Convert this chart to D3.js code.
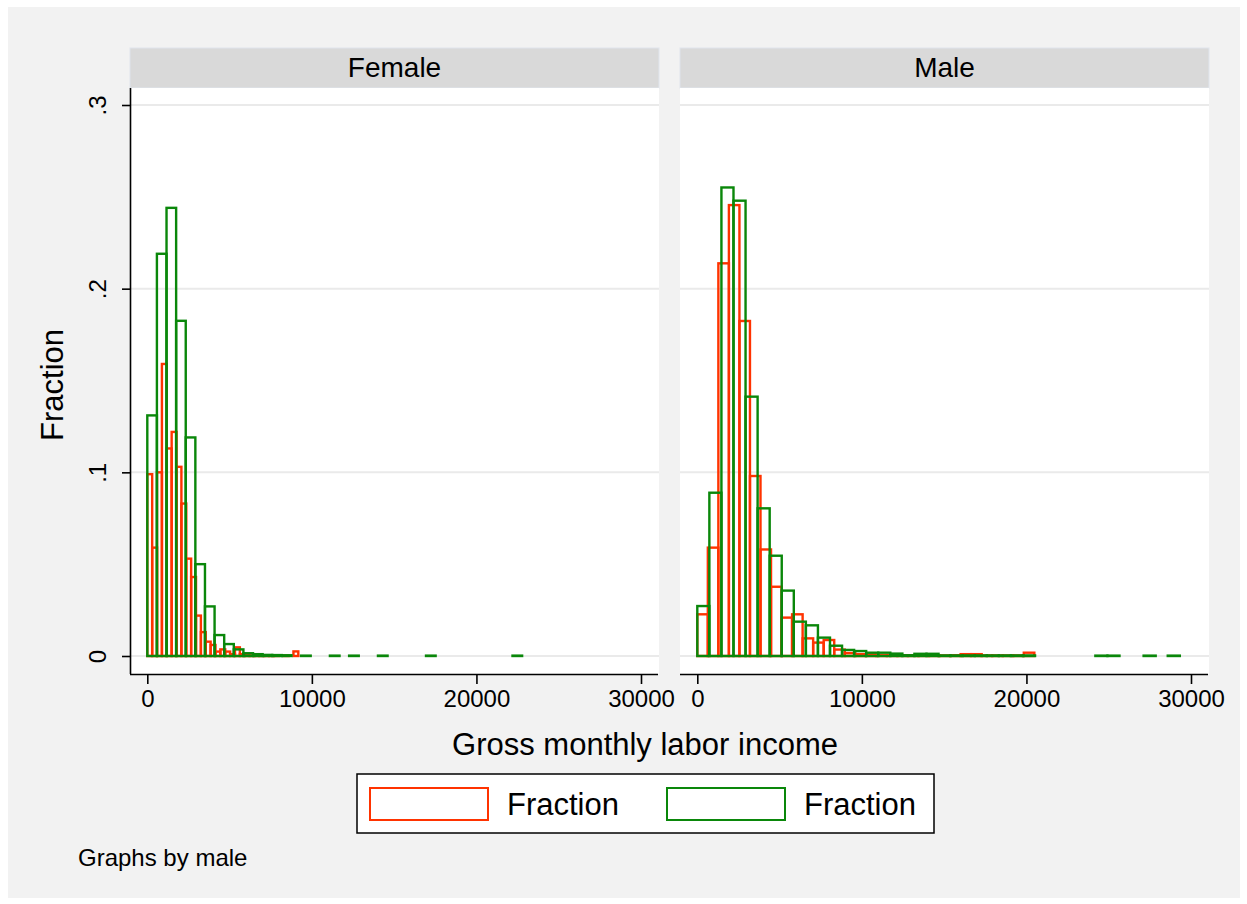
<!DOCTYPE html>
<html>
<head>
<meta charset="utf-8">
<script src="https://cdn.jsdelivr.net/npm/d3@7"></script>
<style>
  html, body { margin: 0; padding: 0; background: #ffffff; }
  svg { display: block; }
  text { font-family: "Liberation Sans", Arial, Helvetica, sans-serif; fill: #000; }
</style>
</head>
<body>
<svg id="chart" width="1247" height="904"></svg>
<script>
// ---------------- DATA ----------------
const panels = ["Female", "Male"];
const xTicks = [0, 10000, 20000, 30000];
const xTickLabels = ["0", "10000", "20000", "30000"];
const yTicks = [0, 0.1, 0.2, 0.3];
const yTickLabels = ["0", ".1", ".2", ".3"];
const legendLabels = ["Fraction", "Fraction"];
const xTitle = "Gross monthly labor income";
const yTitle = "Fraction";
const note = "Graphs by male";

// bin widths (income units), bins start at 0
const femaleRedWidth = 296;
const femaleGreenWidth = 584;
const maleRedWidth = 640;
const maleGreenWidth = 733;

// fractions per bin (null = empty bin)
const femaleRed = [0.099, 0.059, 0.100, 0.159, 0.113, 0.122, 0.103, 0.083, 0.053, 0.043,
  0.022, 0.013, 0.0078, 0.006, 0.0024, 0.0036, 0.0024, 0.001, 0.0047, 0.001,
  0.0004, 0.0003, 0.0003, 0.0003, 0.0002, 0.0002, 0.0002, null, 0.0002, null, 0.0025];
const femaleGreen = [0.131, 0.219, 0.244, 0.1825, 0.119, 0.050, 0.027, 0.0114, 0.0065, 0.0036,
  0.0015, 0.001, 0.0006, 0.0005, 0.0004, null, 0.0002, null, null, 0.0002,
  null, 0.0002, null, null, 0.0002, null, null, null, null, 0.0002,
  null, null, null, null, null, null, null, null, 0.0002];
const maleRed = [0.0227, 0.059, 0.2138, 0.2455, 0.1824, 0.098, 0.058, 0.0377, 0.0209, 0.0227,
  0.0096, 0.0073, 0.0087, 0.0035, 0.0016, 0.001, 0.0008, 0.0004, 0.0004, 0.0004,
  0.0004, 0.0003, 0.0003, 0.0003, 0.0004, 0.001, 0.001, 0.0003, 0.0003, 0.0003,
  0.0003, 0.0018];
const maleGreen = [0.0272, 0.0889, 0.2551, 0.2479, 0.1412, 0.0804, 0.0546, 0.0356, 0.0187, 0.0167,
  0.010, 0.0056, 0.0033, 0.0027, 0.0018, 0.0018, 0.0013, 0.0004, 0.0012, 0.0012,
  0.0003, 0.0003, 0.0003, 0.0003, 0.0003, 0.0003, 0.0003, 0.0003, null, null,
  null, null, null, 0.0002, 0.0002, null, null, 0.0002, null, 0.0002];

const series = {
  Female: [{values: femaleRed, width: femaleRedWidth, color: "#ff3300"},
           {values: femaleGreen, width: femaleGreenWidth, color: "#0a870a"}],
  Male:   [{values: maleRed, width: maleRedWidth, color: "#ff3300"},
           {values: maleGreen, width: maleGreenWidth, color: "#0a870a"}]
};
const legendColors = ["#ff3300", "#0a870a"];

// ---------------- LAYOUT ----------------
const svg = d3.select("#chart");

// outer grey graph region
svg.append("rect").attr("x", 8).attr("y", 7).attr("width", 1232).attr("height", 891).attr("fill", "#f2f2f2");

const plotTop = 88, plotBottom = 674, headerTop = 48;
const panelLefts = [130, 680];
const panelWidth = 529;

const y = d3.scaleLinear().domain([0, 0.3]).range([656, 105]);

panels.forEach((p, pi) => {
  const pl = panelLefts[pi];
  const x = d3.scaleLinear().domain([0, 30000]).range([pl + 17.3, pl + 511]);
  const g = svg.append("g");

  // header strip
  g.append("rect").attr("x", pl).attr("y", headerTop).attr("width", panelWidth).attr("height", plotTop - headerTop)
    .attr("fill", "#d9d9d9").attr("stroke", "#dfe4ec").attr("stroke-width", 1);
  g.append("text").attr("x", pl + panelWidth / 2).attr("y", 77).attr("text-anchor", "middle")
    .attr("font-size", 28).text(p);

  // plot region
  g.append("rect").attr("x", pl).attr("y", plotTop).attr("width", panelWidth).attr("height", plotBottom - plotTop)
    .attr("fill", "#ffffff");

  // gridlines
  g.selectAll("line.grid").data(yTicks).enter().append("line")
    .attr("x1", pl).attr("x2", pl + panelWidth)
    .attr("y1", d => y(d)).attr("y2", d => y(d))
    .attr("stroke", "#eaeaea").attr("stroke-width", 2);

  // histograms
  series[p].forEach(s => {
    const bins = s.values.map((v, i) => ({v, x0: i * s.width, x1: (i + 1) * s.width})).filter(d => d.v !== null);
    g.selectAll(null).data(bins).enter().append("rect")
      .attr("x", d => x(d.x0))
      .attr("width", d => x(d.x1) - x(d.x0))
      .attr("y", d => y(d.v))
      .attr("height", d => y(0) - y(d.v))
      .attr("fill", "none")
      .attr("stroke", s.color)
      .attr("stroke-width", 2.4);
  });

  // x axis
  const xAxis = d3.axisBottom(x).tickValues(xTicks).tickFormat((d, i) => xTickLabels[i]).tickSize(10).tickSizeOuter(0).tickPadding(6);
  const xa = g.append("g").attr("transform", `translate(0,${plotBottom})`).call(xAxis);
  xa.select(".domain").attr("d", `M${pl},0.5H${pl + panelWidth - 1}`).attr("stroke", "#000").attr("stroke-width", 1.6);
  xa.selectAll(".tick line").attr("stroke", "#000").attr("stroke-width", 1.6);
  xa.selectAll(".tick text").attr("font-size", 24).attr("font-family", "Liberation Sans, Arial, sans-serif").attr("fill", "#000");
});

// y axis (left panel only)
const yAxis = d3.axisLeft(y).tickValues(yTicks).tickFormat((d, i) => yTickLabels[i]).tickSize(8).tickSizeOuter(0).tickPadding(6);
const ya = svg.append("g").attr("transform", `translate(${panelLefts[0]},0)`).call(yAxis);
ya.select(".domain").attr("d", `M0.5,${plotTop}V${plotBottom}`).attr("stroke", "#000").attr("stroke-width", 1.6);
ya.selectAll(".tick line").attr("stroke", "#000").attr("stroke-width", 1.6);
ya.selectAll(".tick text").remove();
ya.selectAll(".tick").append("text")
  .attr("transform", "translate(-24,0) rotate(-90)")
  .attr("text-anchor", "middle")
  .attr("font-size", 24)
  .attr("font-family", "Liberation Sans, Arial, sans-serif")
  .attr("fill", "#000")
  .text((d, i) => yTickLabels[i]);

// axis titles
svg.append("text").attr("transform", "translate(63,385) rotate(-90)").attr("text-anchor", "middle")
  .attr("font-size", 31).text(yTitle);
svg.append("text").attr("x", 645).attr("y", 755).attr("text-anchor", "middle")
  .attr("font-size", 31).text(xTitle);

// legend
const lg = svg.append("g");
lg.append("rect").attr("x", 357).attr("y", 774).attr("width", 577).attr("height", 59)
  .attr("fill", "#ffffff").attr("stroke", "#000").attr("stroke-width", 1.5);
const legX = [370, 667];
legendLabels.forEach((lab, i) => {
  lg.append("rect").attr("x", legX[i]).attr("y", 788).attr("width", 118).attr("height", 32)
    .attr("fill", "#ffffff").attr("stroke", legendColors[i]).attr("stroke-width", 2);
  lg.append("text").attr("x", legX[i] + 137).attr("y", 815).attr("font-size", 31).text(lab);
});

// note
svg.append("text").attr("x", 78).attr("y", 866).attr("font-size", 24).text(note);
</script>
</body>
</html>
